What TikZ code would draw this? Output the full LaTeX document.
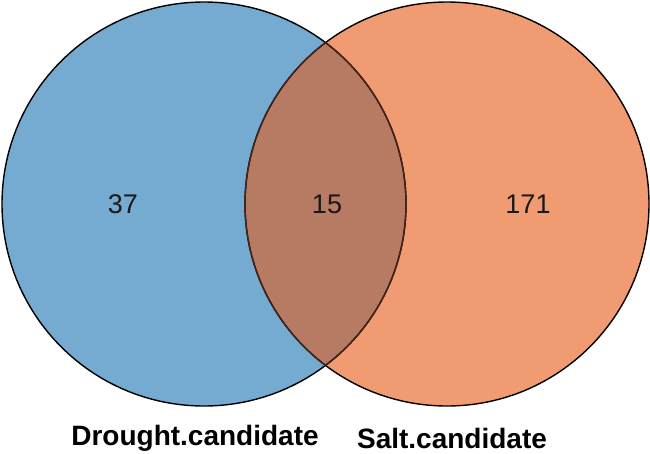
\documentclass[tikz,border=0pt]{standalone}
\usepackage{fontspec}
\setmainfont{Liberation Sans}
\definecolor{vblue}{RGB}{118,171,209}
\definecolor{vorange}{RGB}{240,155,114}
\definecolor{vmix}{RGB}{183,122,98}
\definecolor{vedge}{RGB}{70,35,25}
\begin{document}
\begin{tikzpicture}[x=1pt,y=-1pt,
  numlabel/.style={font=\fontsize{27}{27}\selectfont, text=black!90},
  setlabel/.style={font=\bfseries\fontsize{28}{28}\selectfont},
  rim/.style={line width=1.4pt}]
\useasboundingbox (0,0) rectangle (650,453);
\coordinate (cL) at (204,204);
\coordinate (cR) at (447,204);
\fill[vblue] (cL) circle[radius=202];
\fill[vorange] (cR) circle[radius=202];
\begin{scope}
  \clip (cL) circle[radius=202];
  \fill[vmix] (cR) circle[radius=202];
\end{scope}
\draw[rim] (cL) circle[radius=202];
\draw[rim] (cR) circle[radius=202];
\begin{scope}
  \clip (cL) circle[radius=202];
  \draw[rim, vedge] (cR) circle[radius=202];
\end{scope}
\begin{scope}
  \clip (cR) circle[radius=202];
  \draw[rim, vedge] (cL) circle[radius=202];
\end{scope}
\node[numlabel] (n37) at (123,204) {37};
\node[numlabel] (n15) at (327,204) {15};
\node[numlabel] (n171) at (528,204) {171};
\node[setlabel] (dl) at (195,438) {Drought.candidate};
\node[setlabel] (sl) at (452,438) {Salt.candidate};
\end{tikzpicture}
\end{document}
